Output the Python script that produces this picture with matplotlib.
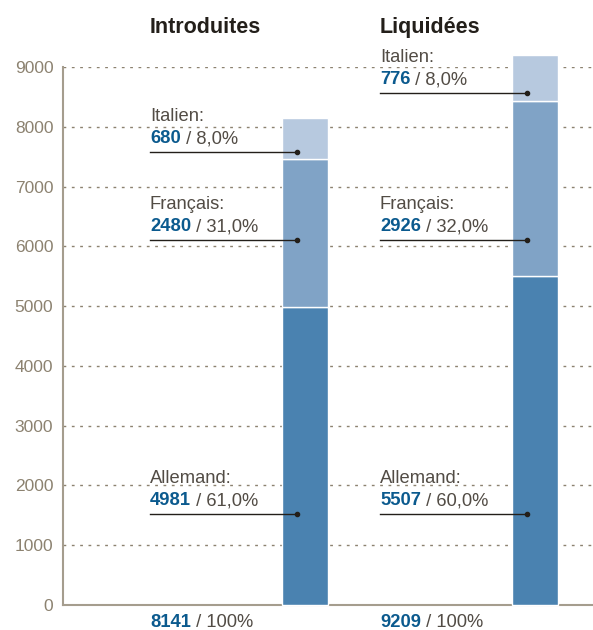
import matplotlib
matplotlib.use("Agg")
import matplotlib.pyplot as plt

groups = ["Introduites", "Liquidées"]
languages = ["Allemand", "Français", "Italien"]
allemand = [4981, 5507]
francais = [2480, 2926]
italien = [680, 776]
pct_allemand = ["61,0%", "60,0%"]
pct_francais = ["31,0%", "32,0%"]
pct_italien = ["8,0%", "8,0%"]
totals = [8141, 9209]
# y value where each annotation leader line sits
line_allemand = [1520, 1520]
line_francais = [6100, 6100]
line_italien = [7575, 8560]
yticks = [0, 1000, 2000, 3000, 4000, 5000, 6000, 7000, 8000, 9000]

colors = ["#4a82b0", "#80a3c6", "#b7c9df"]
blue = "#0b5a8e"
txt = "#524c45"
dark = "#231f1a"
axis_col = "#a59d8e"
tick_col = "#8c8270"

plt.rcParams['font.family'] = ['Liberation Sans', 'DejaVu Sans']

fig = plt.figure(figsize=(5.93, 6.30), dpi=100)
ax = fig.add_axes([63/593, 1-605/630, 1-63/593, (605-67)/630])

x = [0, 1]
w = 0.2
bottoms = [0, 0]
for vals, c in zip([allemand, francais, italien], colors):
    ax.bar(x, vals, w, bottom=bottoms, color=c, edgecolor="white", linewidth=1, clip_on=False, zorder=3)
    bottoms = [b + v for b, v in zip(bottoms, vals)]

ax.set_xlim(-1.052, 1.252)
ax.set_ylim(0, 9000)
ax.set_yticks(yticks)
ax.set_yticklabels([str(t) for t in yticks])
ax.set_xticks([])
ax.tick_params(axis='y', length=0, pad=7, labelsize=12.5, labelcolor=tick_col)
for s in ["top", "right"]:
    ax.spines[s].set_visible(False)
ax.spines["left"].set_color(axis_col)
ax.spines["bottom"].set_color(axis_col)
ax.spines["left"].set_linewidth(1.5)
ax.spines["bottom"].set_linewidth(1.5)
ax.spines["left"].set_bounds(0, 9000)

for t in yticks[1:]:
    ax.axhline(t, color=tick_col, linestyle=(0, (2, 4)), linewidth=1, zorder=1)

fs = 13.2

def two_part(xp, yp, bold, rest, coords="data", dy=0):
    t1 = ax.annotate(bold, xy=(xp, yp), xycoords=coords, textcoords="offset pixels",
                     xytext=(0, dy), fontsize=fs, fontweight="bold", color=blue,
                     va="baseline", ha="left", annotation_clip=False)
    ax.annotate(rest, xy=(1, 0), xycoords=t1, fontsize=fs, color=txt,
                va="bottom", ha="left", annotation_clip=False)

tx_off = -0.674
dot_off = -0.035
for i in range(2):
    xt = x[i] + tx_off
    xd = x[i] + dot_off
    for lab, yl, val, pct in [("Allemand", line_allemand[i], allemand[i], pct_allemand[i]),
                              ("Français", line_francais[i], francais[i], pct_francais[i]),
                              ("Italien", line_italien[i], italien[i], pct_italien[i])]:
        ax.plot([xt, xd], [yl, yl], color=dark, linewidth=1, zorder=4, clip_on=False)
        ax.plot([xd], [yl], marker="o", markersize=3, color=dark, zorder=4, clip_on=False)
        ax.annotate(lab + ":", xy=(xt, yl), xycoords="data", textcoords="offset pixels",
                    xytext=(0, 31), fontsize=fs, color=txt, va="baseline", ha="left",
                    annotation_clip=False)
        two_part(xt, yl, str(val), " / " + pct, dy=9)
    # title
    ax.annotate(groups[i], xy=(xt, 1), xycoords=("data", "figure fraction"),
                textcoords="offset pixels", xytext=(0, -33), fontsize=15.5,
                fontweight="bold", color=dark, va="baseline", ha="left",
                annotation_clip=False)
    # total
    t1 = ax.annotate(str(totals[i]), xy=(xt, 0), xycoords=("data", "figure fraction"),
                     textcoords="offset pixels", xytext=(0, 3), fontsize=fs,
                     fontweight="bold", color=blue, va="baseline", ha="left",
                     annotation_clip=False)
    ax.annotate(" / 100%", xy=(1, 0), xycoords=t1, fontsize=fs, color=txt,
                va="bottom", ha="left", annotation_clip=False)

fig.savefig("out.png", dpi=100)
